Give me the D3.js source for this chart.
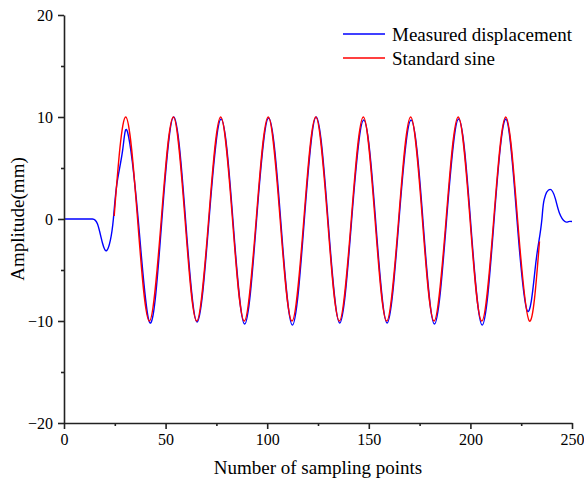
<!DOCTYPE html>
<meta charset="utf-8">
<style>
  body { margin: 0; background: #fff; }
  text { font-family: "Liberation Serif", "Times New Roman", serif; fill: #000; }
</style>
<body>
<script src="https://d3js.org/d3.v7.min.js"></script>
<script>

    var width = 584,
        height = 485;

    // x ticks / y ticks
    var xMajor = [0, 50, 100, 150, 200, 250],
        xMinor = [25, 75, 125, 175, 225],
        yMajor = [-20, -10, 0, 10, 20],
        yMinor = [-15, -5, 5, 15];

    var seriesNames = ["Measured displacement", "Standard sine"];
    var seriesColors = ["#0000ff", "#ff0000"];

    // measured displacement: key points (sample index, mm)
    var measuredX = [0, 4, 8, 11, 14, 16.5, 19, 21, 22.8, 24.3, 26.0, 28.9, 31.3,
        36.5, 42.4, 48.2, 54.0, 59.8, 65.5, 71.4, 77.3, 83.1, 88.9, 94.8, 100.7,
        106.6, 112.4, 118.3, 124.1, 129.9, 135.7, 141.6, 147.5, 153.3, 159.0,
        164.9, 170.8, 176.6, 182.3, 188.3, 194.2, 200.0, 205.8, 211.7, 217.5,
        222.9, 228.0, 231.8, 233.7, 235.2, 236.3, 239.2, 241.8, 243.8, 246.5, 248.3, 250];
    var measuredY = [0, 0, 0, 0, 0, -0.5, -2.4, -3.1, -2.1, 0, 3.4, 6.8, 8.5,
        0, -10.2, 0, 10.0, 0, -10.1, 0, 9.8, 0, -10.3, 0, 9.9,
        0, -10.4, 0, 10.0, 0, -10.2, 0, 9.7, 0, -10.2,
        0, 9.7, 0, -10.3, 0, 9.8, 0, -10.4, 0, 9.8,
        0, -9.0, -5.0, -2.2, 0, 1.9, 2.9, 2.0, 0.6, -0.25, -0.25, -0.25];

    // standard sine: peaks, troughs and zero crossings
    var sineX = [24.7, 30.4, 36.2, 42.0, 47.9, 53.8, 59.55, 65.3, 71.2, 77.1,
        82.9, 88.7, 94.6, 100.5, 106.35, 112.2, 118.05, 123.9, 129.7, 135.5,
        141.4, 147.3, 153.05, 158.8, 164.7, 170.6, 176.35, 182.1, 188.05, 194.0,
        199.8, 205.6, 211.5, 217.4, 223.2, 229.0, 234.0];
    var sineY = [0.3, 10, 0, -10, 0, 10, 0, -10, 0, 10,
        0, -10, 0, 10, 0, -10, 0, 10, 0, -10,
        0, 10, 0, -10, 0, 10, 0, -10, 0, 10,
        0, -10, 0, 10, 0, -10, -2.2];

    var svg = d3.select("body").append("svg")
            .attr("width", width)
            .attr("height", height);

    var x = d3.scaleLinear().domain([0, 250]).range([64, 572]);
    var y = d3.scaleLinear().domain([-20, 20]).range([423, 15]);

    var measured = measuredX.map(function(d, i) { return [d, measuredY[i]]; });
    var sine = sineX.map(function(d, i) { return [d, sineY[i]]; });

    var line = d3.line()
            .x(function(d) { return x(d[0]); })
            .y(function(d) { return y(d[1]); })
            .curve(d3.curveNatural);

    svg.append("path")
        .datum(measured)
        .attr("d", line)
        .attr("fill", "none")
        .attr("stroke", seriesColors[0])
        .attr("stroke-width", 1.4);

    svg.append("path")
        .datum(sine)
        .attr("d", line)
        .attr("fill", "none")
        .attr("stroke", seriesColors[1])
        .attr("stroke-width", 1.4);

    // axes
    var gx = svg.append("g").attr("transform", "translate(0," + y(-20) + ")");
    gx.call(d3.axisBottom(x).tickValues(xMajor).tickSize(6).tickSizeOuter(0).tickPadding(5));
    gx.append("g").call(d3.axisBottom(x).tickValues(xMinor).tickSize(3).tickFormat(""))
        .select(".domain").remove();

    var gy = svg.append("g").attr("transform", "translate(" + x(0) + ",0)");
    gy.call(d3.axisLeft(y).tickValues(yMajor).tickSize(6).tickSizeOuter(0).tickPadding(5));
    gy.append("g").call(d3.axisLeft(y).tickValues(yMinor).tickSize(3).tickFormat(""))
        .select(".domain").remove();

    svg.selectAll(".domain, .tick line")
        .attr("stroke", "#222")
        .attr("stroke-width", 1.6);
    svg.selectAll(".tick text")
        .attr("font-family", "Liberation Serif, serif")
        .attr("font-size", 16)
        .attr("fill", "#000");

    // axis titles
    svg.append("text")
        .attr("x", (x(0) + x(250)) / 2)
        .attr("y", 474)
        .attr("text-anchor", "middle")
        .attr("font-size", 19)
        .text("Number of sampling points");

    svg.append("text")
        .attr("transform", "translate(24," + y(0) + ") rotate(-90)")
        .attr("text-anchor", "middle")
        .attr("font-size", 19)
        .text("Amplitude(mm)");

    // legend
    var legend = svg.append("g").attr("transform", "translate(343,34)");
    seriesNames.forEach(function(name, i) {
        var row = legend.append("g").attr("transform", "translate(0," + i * 24 + ")");
        row.append("line")
            .attr("x1", 0).attr("x2", 42)
            .attr("stroke", seriesColors[i])
            .attr("stroke-width", 1.4);
        row.append("text")
            .attr("x", 49)
            .attr("dy", "0.35em")
            .attr("font-size", 19)
            .text(name);
    });

</script>
